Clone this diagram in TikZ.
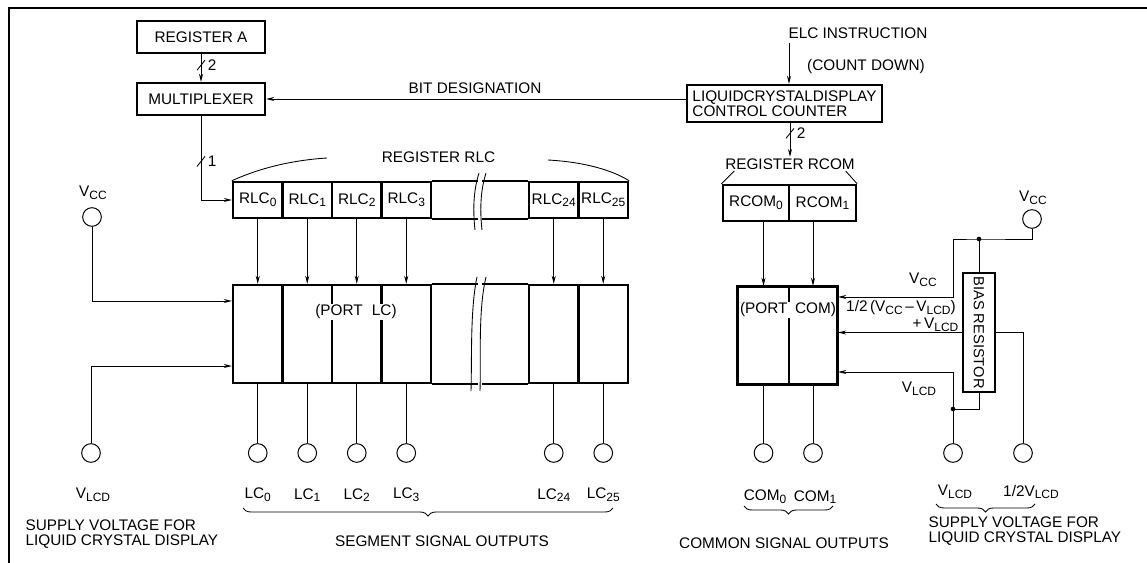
\documentclass[tikz,border=0pt]{standalone}
\usepackage{fontspec}
\setmainfont{Liberation Sans}
\usetikzlibrary{arrows.meta,decorations.pathreplacing}
\newcommand{\lowsub}[1]{\raisebox{-2pt}{\fontsize{9}{9}\selectfont #1}}
\begin{document}
\begin{tikzpicture}[x=0.75pt,y=-0.75pt,
  font=\fontsize{11.5}{11.5}\selectfont,
  box/.style={draw,line width=1.8pt,inner sep=0pt},
  wire/.style={line width=0.65pt},
  arr/.style={wire,-{Stealth[length=6pt,width=3pt]}},
  term/.style={draw,circle,line width=0.75pt,minimum size=14pt,inner sep=0pt},
  lbl/.style={inner sep=1pt},
  brc/.style={wire,decorate,decoration={brace,mirror,amplitude=6pt}},
  jdot/.style={circle,fill,inner sep=0pt,minimum size=3.5pt},
  rcell/.style={box,minimum width=37.1pt,minimum height=27pt},
  pcell/.style={box,minimum width=37.1pt,minimum height=73.5pt},
]
\useasboundingbox (0,0) rectangle (1147,563);
\draw[line width=2pt] (9,563) -- (9,8) -- (1147,8);

% ---- top left
\node[box,minimum width=96pt,minimum height=24pt] (regA) at (201,37) {REGISTER A};
\node[box,minimum width=96pt,minimum height=24pt] (mux) at (201,99) {MULTIPLEXER};
\draw[arr] (regA.south) -- coordinate[pos=0.4] (s1) (mux.north);
\draw[wire] ([shift={(-4,5)}]s1) -- ([shift={(4,-5)}]s1);
\node[lbl,anchor=west] at ([xshift=4pt]s1) {2};

% ---- counter
\node[box,minimum width=146pt,minimum height=27.75pt,align=left] (ctr) at (784.5,103.5) {LIQUIDCRYSTALDISPLAY\\CONTROL COUNTER};
\node[lbl] (elc) at (858,33) {ELC INSTRUCTION};
\coordinate (elcA) at (789,43);
\draw[arr] (elcA) -- (elcA |- ctr.north);
\node[lbl] at (866,67) {(COUNT DOWN)};
\draw[arr] (ctr.west |- mux.east) -- (mux.east);
\node[lbl] at (475,88) {BIT DESIGNATION};

% ---- RCOM
\node[lbl] (rcoml) at (790,164) {REGISTER RCOM};
\draw[arr] (ctr.south -| rcoml.north) -- coordinate[pos=0.3] (s2) (rcoml.north);
\draw[wire] ([shift={(-4,5)}]s2) -- ([shift={(4,-5)}]s2);
\node[lbl,anchor=west] at ([xshift=4pt]s2) {2};
\node[box,minimum width=49.9pt,minimum height=27pt] (rc0) at (756,203) {RCOM\lowsub{0}};
\node[box,minimum width=50.2pt,minimum height=27pt] (rc1) at (822.5,203) {RCOM\lowsub{1}};
\draw[wire] ([xshift=8pt]rcoml.south west) -- (rc0.north west);
\draw[wire] ([xshift=-8pt]rcoml.south east) -- (rc1.north east);

% ---- PORT COM
\node[box,minimum width=38.25pt,minimum height=72.75pt] (pc0) at (763.5,335.5) {};
\node[box,minimum width=36pt,minimum height=72.75pt] (pc1) at (813,335.5) {};
\node[fill=white,inner xsep=0pt,inner ysep=1pt] at (788,310) {(PORT\hspace{0.5em}COM)};
\draw[line width=1.8pt] (pc0.north west) rectangle (pc1.south east);
\draw[arr] (rc0.south -| pc0.north) -- (pc0.north);
\draw[arr] (rc1.south -| pc1.north) -- (pc1.north);
\node[term] (com0) at (763.5,453) {};
\node[term] (com1) at (813,453) {};
\draw[wire] (pc0.south) -- (com0.north);
\draw[wire] (pc1.south) -- (com1.north);
\node[lbl] at (765,497) {COM\lowsub{0}};
\node[lbl] at (815,497) {COM\lowsub{1}};

% ---- bias resistor
\node[box,minimum width=24pt,minimum height=89.25pt] (bias) at (979,332.5) {};
\node[rotate=-90,font=\fontsize{11}{11}\selectfont,inner sep=0pt] at (bias.center) {BIAS RESISTOR};
\node[term] (vccR) at (1032,219) {};
\node[lbl] at (1033,198) {V\lowsub{CC}};
\coordinate (jv) at (979,239);
\coordinate (yV) at (953,297);
\draw[arr] (vccR.south) |- (jv) -- (yV |- jv) -- (yV) -- (yV -| pc1.east);
\draw[wire] (jv) -- (bias.north);
\node[jdot] at (jv) {};
\draw[arr] (bias.west) -- (bias.west -| pc1.east);
\node[term] (half) at (1023,453) {};
\draw[wire] (bias.east) -| (half.north);
\node[term] (vlcdR) at (953,453) {};
\coordinate (jl) at (953,409);
\coordinate (yL) at (953,372);
\draw[arr] (vlcdR.north) -- (yL) -- (yL -| pc1.east);
\draw[wire] (jl) -| (bias.south);
\node[jdot] at (jl) {};
\node[lbl] at (923,280) {V\lowsub{CC}};
\node[lbl] at (901,308) {1/2\,(V\lowsub{CC}\,--\,V\lowsub{LCD})};
\node[lbl,anchor=east] at (960,325) {+\,V\lowsub{LCD}};
\node[lbl] at (919,389) {V\lowsub{LCD}};
\node[lbl] at (955,492) {V\lowsub{LCD}};
\node[lbl] at (1031,492) {1/2V\lowsub{LCD}};

% ---- RLC register
\node[lbl] (rlcl) at (438.5,157) {REGISTER RLC};
\node[rcell] (rlc0) at (257.75,200) {RLC\lowsub{0}};
\node[rcell] (rlc1) at (307.25,200) {RLC\lowsub{1}};
\node[rcell] (rlc2) at (356.75,200) {RLC\lowsub{2}};
\node[rcell] (rlc3) at (406.25,200) {RLC\lowsub{3}};
\node[rcell] (rlc24) at (553.75,200) {RLC\lowsub{24}};
\node[rcell] (rlc25) at (603.25,200) {RLC\lowsub{25}};
\draw[line width=1.8pt] (rlc3.north east) -- ++(46,0) (rlc3.south east) -- ++(46,0)
  (rlc24.north west) -- ++(-46,0) (rlc24.south west) -- ++(-46,0);
\draw[wire] (479,173) .. controls (473,192) and (473,212) .. (475,230);
\draw[wire] (486,173) .. controls (480,192) and (480,212) .. (482,230);
\draw[wire] (rlc0.north west) .. controls (262,167) and (295,160) .. (327,158);
\draw[wire] (548,160) .. controls (584,162) and (612,170) .. (rlc25.north east);

% ---- mux to RLC0
\draw[arr] (mux.south) |- coordinate[pos=0.27] (s3) (rlc0.west);
\draw[wire] ([shift={(-4,5)}]s3) -- ([shift={(4,-5)}]s3);
\node[lbl,anchor=west] at ([xshift=4pt]s3) {1};

% ---- PORT LC
\node[pcell] (p0) at (257.75,334) {};
\node[pcell] (p1) at (307.25,334) {};
\node[pcell] (p2) at (356.75,334) {};
\node[pcell] (p3) at (406.25,334) {};
\node[pcell] (p24) at (553.75,334) {};
\node[pcell] (p25) at (603.25,334) {};
\draw[line width=1.8pt] (p3.north east) -- ++(46,0) (p3.south east) -- ++(46,0)
  (p24.north west) -- ++(-46,0) (p24.south west) -- ++(-46,0);
\draw[wire] (477,277) .. controls (470,310) and (472,360) .. (471,391);
\draw[wire] (486,277) .. controls (478,310) and (481,360) .. (480,391);
\node[fill=white,inner xsep=0pt,inner ysep=1pt] at (356,312) {(PORT\hspace{0.6em}LC)};

\foreach \i in {0,1,2,3,24,25} {
  \draw[arr] (rlc\i.south) -- (p\i.north);
  \node[term] (lc\i) at (p\i.center |- 0,453) {};
  \draw[wire] (p\i.south) -- (lc\i.north);
  \node[lbl] at (lc\i.center |- 0,495) {LC\lowsub{\i}};
}

% ---- left supply
\node[term] (vccL) at (92,217) {};
\node[lbl] at (93,193) {V\lowsub{CC}};
\coordinate (yA) at (92,301);
\draw[arr] (vccL.south) -- (yA) -- (yA -| p0.west);
\node[term] (vlcdL) at (91,453) {};
\coordinate (yB) at (91,366);
\draw[arr] (vlcdL.north) -- (yB) -- (yB -| p0.west);
\node[lbl] at (93,495) {V\lowsub{LCD}};

% ---- braces and captions
\draw[brc] (243,508) -- (613,508);
\draw[brc] (744,506) -- (833,506);
\draw[brc] (936,504) -- (1035,504);
\node[lbl] at (442,541) {SEGMENT SIGNAL OUTPUTS};
\node[lbl] at (784,543) {COMMON SIGNAL OUTPUTS};
\node[lbl,align=left,anchor=north west] at (24,518) {SUPPLY VOLTAGE FOR\\LIQUID CRYSTAL DISPLAY};
\node[lbl,align=left,anchor=north west] at (927,515) {SUPPLY VOLTAGE FOR\\LIQUID CRYSTAL DISPLAY};
\end{tikzpicture}
\end{document}
